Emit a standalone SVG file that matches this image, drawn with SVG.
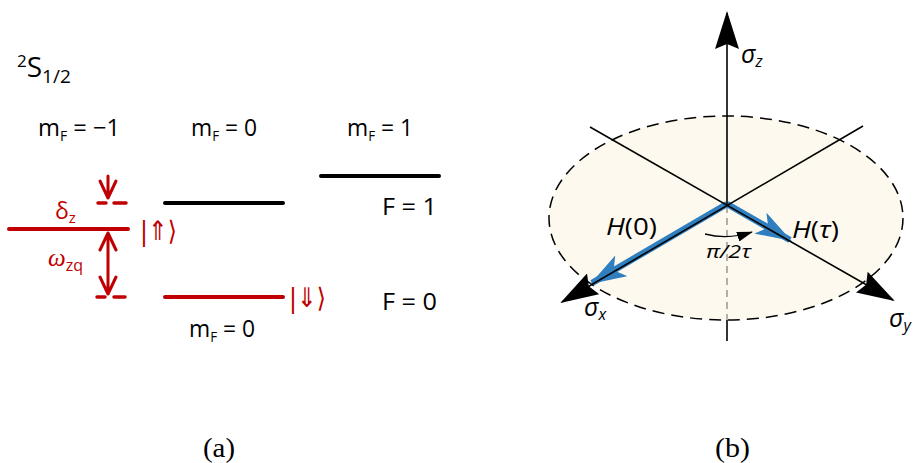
<svg xmlns="http://www.w3.org/2000/svg" width="914" height="463" viewBox="0 0 914 463">
<style>
.t{font-family:"Open Sans","Liberation Sans",sans-serif;fill:#000}
.r{fill:#c00000}
.k{font-family:"DejaVu Sans","Open Sans",sans-serif;fill:#c00000}
.it{font-family:"Open Sans","Liberation Sans",sans-serif;font-style:italic;fill:#000}
.cap{font-family:"Liberation Serif",serif;font-size:28px;fill:#000}
.lvk{stroke:#000;stroke-width:4;stroke-linecap:round}
.lvr{stroke:#c00000;stroke-width:4;stroke-linecap:round}
.dash{stroke:#c00000;stroke-width:3.5;stroke-linecap:round}
.rarr{stroke:#c00000;stroke-width:3;fill:none;stroke-linecap:round;stroke-linejoin:round}
.ax{stroke:#000;stroke-width:1.6;fill:none}
.blue{stroke:#2f7fc0;stroke-width:6.5;fill:none}
</style>
<defs>
<marker id="bh" markerUnits="userSpaceOnUse" markerWidth="38" markerHeight="24" viewBox="0 0 38 24" refX="36" refY="12" orient="auto">
<path d="M0,0 L38,12 L0,24 L5,12 Z" fill="#000"/>
</marker>
<marker id="blh" markerUnits="userSpaceOnUse" markerWidth="36" markerHeight="24" viewBox="0 0 36 24" refX="34" refY="12" orient="auto">
<path d="M0,0 L36,12 L0,24 L9,12 Z" fill="#2f7fc0"/>
</marker>
<marker id="sh" markerUnits="userSpaceOnUse" markerWidth="16" markerHeight="10" viewBox="0 0 16 10" refX="15" refY="5" orient="auto">
<path d="M0,0 L16,5 L0,10 Z" fill="#000"/>
</marker>
</defs>

<g id="panel-a">
<g id="term"><text class="t" x="17" y="77" font-size="28"><tspan font-size="17" dy="-10">2</tspan><tspan dy="10">S</tspan><tspan font-size="19" dy="6">1/2</tspan></text></g>
<g id="label-mF-m1"><text class="t" x="38" y="136" font-size="24" textLength="82" lengthAdjust="spacingAndGlyphs">m<tspan font-size="14" dy="5">F</tspan><tspan dy="-5"> = −1</tspan></text></g>
<g id="label-mF-0"><text class="t" x="191" y="136" font-size="24" textLength="66" lengthAdjust="spacingAndGlyphs">m<tspan font-size="14" dy="5">F</tspan><tspan dy="-5"> = 0</tspan></text></g>
<g id="label-mF-1"><text class="t" x="347" y="136" font-size="24" textLength="66" lengthAdjust="spacingAndGlyphs">m<tspan font-size="14" dy="5">F</tspan><tspan dy="-5"> = 1</tspan></text></g>
<g id="label-mF-0b"><text class="t" x="189" y="337" font-size="24" textLength="66" lengthAdjust="spacingAndGlyphs">m<tspan font-size="14" dy="5">F</tspan><tspan dy="-5"> = 0</tspan></text></g>
<g id="label-F1"><text class="t" x="382" y="215" font-size="23" textLength="55" lengthAdjust="spacingAndGlyphs">F = 1</text></g>
<g id="label-F0"><text class="t" x="382" y="310" font-size="23" textLength="55" lengthAdjust="spacingAndGlyphs">F = 0</text></g>

<g id="level-F1-m0"><line class="lvk" x1="165" y1="203" x2="283" y2="203"/></g>
<g id="level-F1-m1"><line class="lvk" x1="321" y1="176" x2="439" y2="176"/></g>
<g id="level-up"><line class="lvr" x1="9" y1="229" x2="128" y2="229"/>
<text class="k" x="140" y="240" font-size="27" textLength="37" lengthAdjust="spacingAndGlyphs">|⇑⟩</text></g>
<g id="level-down"><line class="lvr" x1="165" y1="297" x2="283" y2="297"/>
<text class="k" x="289" y="307" font-size="27" textLength="37" lengthAdjust="spacingAndGlyphs">|⇓⟩</text></g>
<g id="ref-top"><line class="dash" x1="98" y1="203" x2="106" y2="203"/><line class="dash" x1="114" y1="203" x2="126" y2="203"/></g>
<g id="ref-bot"><line class="dash" x1="97" y1="297" x2="105" y2="297"/><line class="dash" x1="114" y1="297" x2="125" y2="297"/></g>
<g id="label-delta"><text class="t r" x="55" y="219" font-size="23">δ<tspan font-size="15" dy="4">z</tspan></text></g>
<g id="label-omega"><text class="r" x="48" y="266" font-size="25" font-family="'Liberation Serif',serif" font-style="italic">ω<tspan font-family="'Open Sans','Liberation Sans',sans-serif" font-style="normal" font-size="16" dy="5">zq</tspan></text></g>
</g>

<g id="connectors">
<path class="rarr" d="M108,176 L108,198 M100,181 L108,198 L116,181"/>
<path class="rarr" d="M108,233 L108,294 M100,250 L108,233 L116,250 M100,277 L108,294 L116,277"/>
</g>

<g id="panel-b">
<ellipse cx="726" cy="218" rx="177" ry="102" fill="#fdf9ee" stroke="#000" stroke-width="1.5" stroke-dasharray="12 7"/>
<line x1="727" y1="206" x2="727" y2="320" stroke="#888" stroke-width="1.3" stroke-dasharray="7 5"/>
<line class="ax" x1="727" y1="320" x2="727" y2="341"/>
<g id="blue-arrows">
<line class="blue" x1="727" y1="204" x2="592" y2="283" marker-end="url(#blh)"/>
<line class="blue" x1="727" y1="204" x2="790" y2="240" marker-end="url(#blh)"/>
</g>
<line class="ax" x1="727" y1="204" x2="727" y2="13" marker-end="url(#bh)"/>
<line class="ax" x1="863" y1="126" x2="562" y2="302" marker-end="url(#bh)"/>
<line class="ax" x1="590" y1="127" x2="893" y2="300" marker-end="url(#bh)"/>
<path d="M705,234 Q728,240 752,232" stroke="#000" stroke-width="1.3" fill="none" marker-end="url(#sh)"/>
<text class="it" x="741" y="63" font-size="25">σ<tspan font-size="16" dy="4">z</tspan></text>
<text class="it" x="584" y="316" font-size="25">σ<tspan font-size="16" dy="4">x</tspan></text>
<text class="it" x="889" y="327" font-size="25">σ<tspan font-size="16" dy="4">y</tspan></text>
<text class="it" x="606" y="235" font-size="24" textLength="51" lengthAdjust="spacingAndGlyphs">H<tspan font-style="normal">(0)</tspan></text>
<text class="it" x="792" y="238" font-size="24" textLength="47" lengthAdjust="spacingAndGlyphs">H<tspan font-style="normal">(</tspan>τ<tspan font-style="normal">)</tspan></text>
<text class="it" x="706" y="258" font-size="19" textLength="45" lengthAdjust="spacingAndGlyphs">π/2τ</text>
</g>

<text class="cap" x="203" y="457" textLength="32" lengthAdjust="spacingAndGlyphs">(a)</text>
<text class="cap" x="715" y="457" textLength="35" lengthAdjust="spacingAndGlyphs">(b)</text>
</svg>
